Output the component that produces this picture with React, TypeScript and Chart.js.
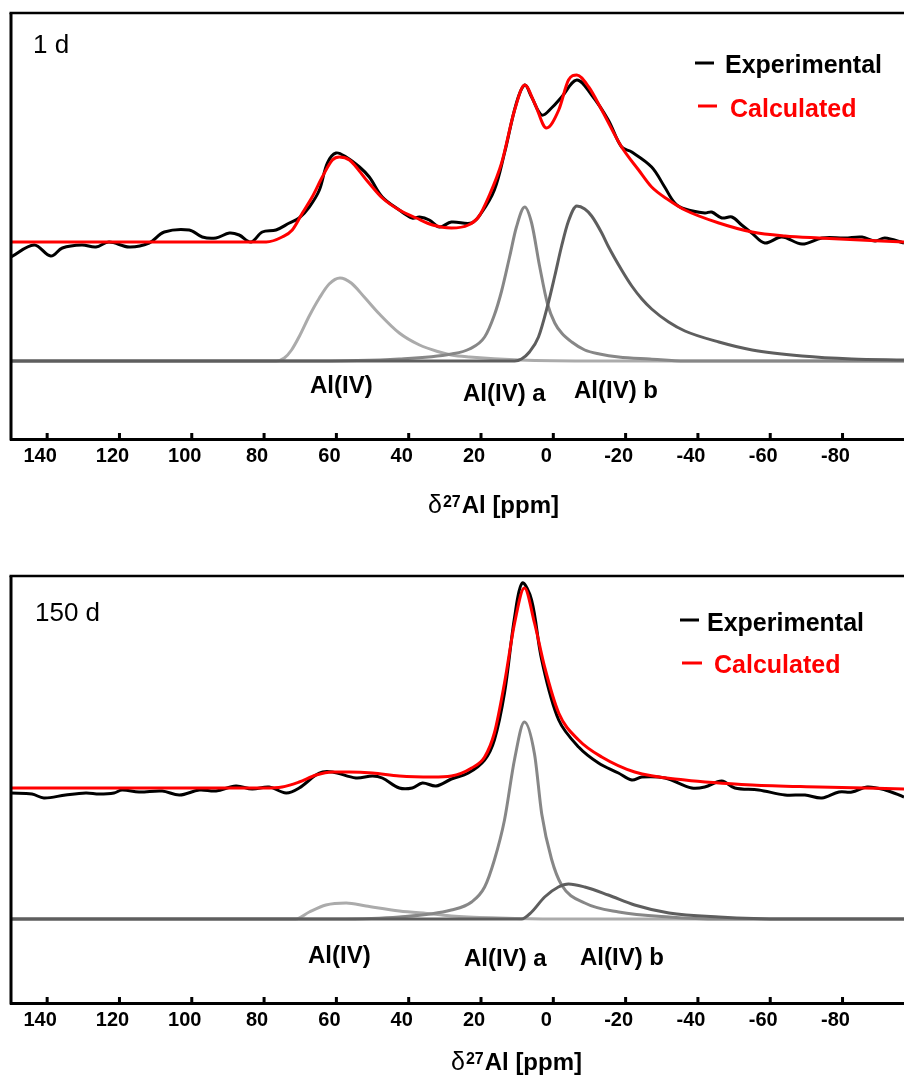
import React, { useEffect, useRef } from "react";
import { Chart, registerables } from "chart.js";

Chart.register(...registerables);

const FONT = '"Liberation Sans", Arial, sans-serif';

// Chemical shift axis (ppm), drawn high-to-low as usual for NMR spectra
const TICK_PPM = [140, 120, 100, 80, 60, 40, 20, 0, -20, -40, -60, -80];
const PPM_LEFT = 150;
const PPM_RIGHT = -97;

type Pair = [number, number];

// ---- 1 d sample: [ppm, intensity (a.u.)] ----
const EXP_1D: Pair[] = [
  [150, 104], [143.6, 116], [139, 105], [135.8, 113], [130.4, 116], [126.5, 114], [122.9, 119],
  [117.3, 114], [111.8, 118], [107.6, 129], [100.7, 131], [97.1, 124], [93.3, 123], [89.6, 128],
  [86.9, 126], [83.6, 119], [80.5, 129], [76.7, 131], [73, 138], [70.3, 143], [67.5, 154],
  [64.7, 171], [62.5, 198], [60.1, 208], [57.3, 204], [53.6, 194], [50.9, 184], [47.3, 164],
  [42.6, 151], [39, 143], [37, 144], [34.3, 141], [31.5, 134], [28.2, 139], [22.6, 138],
  [19.9, 148], [16.3, 171], [13.5, 208], [10.2, 258], [7.9, 276], [6, 264], [3.2, 246],
  [0.5, 253], [-2.3, 264], [-6.5, 281], [-10.6, 266], [-15.2, 241], [-18.9, 214], [-21.7, 209],
  [-27.2, 194], [-30.8, 174], [-33.6, 158], [-36.4, 152], [-41.9, 148], [-43.8, 149],
  [-46.6, 143], [-49.4, 144], [-52.1, 136], [-54.9, 128], [-58.5, 118], [-63.2, 124],
  [-68.8, 117], [-74.3, 123], [-80.7, 123], [-85.4, 124], [-89, 120], [-91.7, 123], [-97, 118],
];
const CALC_1D: Pair[] = [
  [150, 119], [79.4, 119], [75, 124], [72.2, 131], [69.4, 148], [66.7, 164], [63.9, 184],
  [61.1, 201], [59.2, 204], [56.4, 201], [51.7, 181], [47.3, 163], [42.6, 151], [37.9, 143],
  [33.4, 136], [28.2, 133], [23.5, 136], [20.7, 144], [17.9, 164], [14.3, 198], [10.7, 251],
  [7.9, 276], [5.2, 258], [1.9, 233], [-1.5, 251], [-4.2, 281], [-6.5, 286], [-9.8, 274],
  [-13.4, 251], [-18.9, 214], [-23.6, 191], [-27.2, 174], [-31.9, 161], [-36.4, 151],
  [-45.8, 138], [-55, 129], [-64.1, 125], [-73.5, 123], [-97, 119],
];
const AL4_1D: Pair[] = [
  [150, 0], [76.6, 0], [74.4, 3], [72.4, 11], [70.2, 25], [67.5, 45], [64.7, 63], [62, 77],
  [59, 83], [55.9, 78], [52.3, 64], [48.1, 47], [42.6, 28], [37, 16], [31.5, 9], [28.2, 6],
  [23.2, 4], [9.3, 1], [-12.8, 0], [-97, 0],
];
const AL4A_1D: Pair[] = [
  [150, 0], [70, 0], [42.6, 2], [28.2, 7], [23.2, 12], [19, 24], [16.3, 46], [14.3, 70],
  [12.1, 104], [10.2, 134], [7.9, 154], [6, 138], [3.8, 95], [1.6, 57], [-0.4, 38], [-2.3, 28],
  [-5.1, 19], [-8.7, 11], [-12.8, 7], [-18.1, 4], [-26.7, 2], [-36.4, 0], [-97, 0],
];
const AL4B_1D: Pair[] = [
  [150, 0], [10.7, 0], [8.8, 2], [6.6, 9], [4.1, 24], [1.6, 55], [-0.4, 85], [-2.3, 115],
  [-4.2, 140], [-6.5, 155], [-8.7, 152], [-10.6, 145], [-13.4, 128], [-15.3, 114], [-18.9, 91],
  [-21.7, 75], [-24.5, 62], [-27.2, 52], [-31.9, 39], [-36.4, 30], [-45.8, 19], [-55, 11],
  [-68.8, 5], [-82.6, 2], [-97, 1],
];

// ---- 150 d sample ----
const EXP_150D: Pair[] = [
  [150, 126], [144.2, 125], [140.9, 121], [134.9, 124], [129.3, 126], [125.6, 125], [121.5, 126],
  [119.3, 129], [114.6, 127], [108.2, 128], [103.4, 124], [97.9, 129], [93.3, 128], [87.8, 133],
  [83.3, 130], [78.6, 132], [73.9, 126], [70.3, 131], [64.7, 146], [61.1, 147], [54.6, 141],
  [50, 143], [47.3, 141], [42.6, 131], [39, 131], [36.2, 136], [32.4, 133], [28.2, 140],
  [23.5, 146], [19, 159], [16.3, 179], [13.5, 226], [10.7, 302], [8.6, 336], [6, 319],
  [3.2, 259], [-1.5, 199], [-7, 172], [-12.5, 156], [-18, 146], [-21.7, 139], [-24.5, 142],
  [-30.9, 141], [-38.3, 131], [-41.9, 132], [-46.6, 138], [-50.2, 131], [-56.8, 129],
  [-64.1, 124], [-69.6, 124], [-74.3, 121], [-79, 127], [-82.6, 127], [-86.8, 132],
  [-91.8, 129], [-97, 122],
];
const CALC_150D: Pair[] = [
  [150, 131], [80, 131], [75, 132], [70.3, 137], [65.6, 144], [61.1, 147], [56.4, 147],
  [50, 146], [42.6, 143], [33.4, 142], [28.2, 143], [22.6, 151], [19, 162], [16.3, 186],
  [13.5, 236], [10.7, 296], [8, 331], [5.2, 296], [2.4, 252], [-1.5, 206], [-7, 179],
  [-13.4, 162], [-22.5, 147], [-36.4, 139], [-55, 134], [-73.5, 132], [-97, 130],
];
const AL4_150D: Pair[] = [
  [150, 0], [71.2, 0], [67.5, 7], [62.9, 14], [57.3, 16], [51.8, 13], [42.6, 8], [33.4, 5],
  [28.2, 3], [14.9, 1], [0, 0], [-97, 0],
];
const AL4A_150D: Pair[] = [
  [150, 0], [60, 0], [42.6, 2], [28.2, 9], [22.6, 17], [19, 32], [16.3, 59], [13.5, 99],
  [10.7, 160], [8, 197], [5.2, 165], [3.2, 105], [0.5, 60], [-2.3, 34], [-8.7, 16],
  [-18.1, 7], [-32, 2], [-45.8, 0], [-97, 0],
];
const AL4B_150D: Pair[] = [
  [150, 0], [8.8, 0], [6, 7], [2.4, 22], [-1.4, 32], [-4.2, 35], [-8.7, 32], [-15.2, 24],
  [-22.5, 14], [-32, 6], [-45.8, 2], [-64.1, 0], [-97, 0],
];

const COLOR_EXP = "#000000";
const COLOR_CALC = "#ff0000";
const COLOR_AL4 = "#ababab";
const COLOR_AL4A = "#878787";
const COLOR_AL4B = "#5e5e5e";

type Label = { text: string; x: number; y: number };

interface PanelSpec {
  tag: string;
  exp: Pair[];
  calc: Pair[];
  al4: Pair[];
  al4a: Pair[];
  al4b: Pair[];
  yMin: number;
  yMax: number;
  height: number;
  padTop: number;
  axisHeight: number;
  tagPos: { x: number; y: number };
  legendExp: { x0: number; x1: number; ly: number; tx: number; ty: number };
  legendCalc: { x0: number; x1: number; ly: number; tx: number; ty: number };
  compLabels: Label[];
  titlePos: { x: number; y: number };
}

const PANEL_1D: PanelSpec = {
  tag: "1 d",
  exp: EXP_1D, calc: CALC_1D, al4: AL4_1D, al4a: AL4A_1D, al4b: AL4B_1D,
  yMin: -78, yMax: 348,
  height: 560, padTop: 13, axisHeight: 121,
  tagPos: { x: 33, y: 53 },
  legendExp: { x0: 695, x1: 714, ly: 63, tx: 725, ty: 73 },
  legendCalc: { x0: 698, x1: 717, ly: 106, tx: 730, ty: 117 },
  compLabels: [
    { text: "Al(IV)", x: 310, y: 393 },
    { text: "Al(IV) a", x: 463, y: 401 },
    { text: "Al(IV) b", x: 574, y: 398 },
  ],
  titlePos: { x: 428, y: 513 },
};

const PANEL_150D: PanelSpec = {
  tag: "150 d",
  exp: EXP_150D, calc: CALC_150D, al4: AL4_150D, al4a: AL4A_150D, al4b: AL4B_150D,
  yMin: -84, yMax: 343,
  height: 520, padTop: 16, axisHeight: 77,
  tagPos: { x: 35, y: 61 },
  legendExp: { x0: 680, x1: 699, ly: 60, tx: 707, ty: 71 },
  legendCalc: { x0: 682, x1: 702, ly: 103, tx: 714, ty: 113 },
  compLabels: [
    { text: "Al(IV)", x: 308, y: 403 },
    { text: "Al(IV) a", x: 464, y: 406 },
    { text: "Al(IV) b", x: 580, y: 405 },
  ],
  titlePos: { x: 451, y: 510 },
};

const toPoints = (a: Pair[]) => a.map(([x, y]) => ({ x, y }));

// lower `order` is painted on top
function curve(
  label: string,
  data: Pair[],
  color: string,
  order: number,
  smooth: "monotone" | "tension"
) {
  return {
    label,
    data: toPoints(data),
    borderColor: color,
    backgroundColor: color,
    borderWidth: 3,
    pointRadius: 0,
    fill: false,
    order,
    ...(smooth === "monotone" ? { cubicInterpolationMode: "monotone" } : { tension: 0.35 }),
  };
}

function annotatePlugin(spec: PanelSpec) {
  return {
    id: "spectrumFrame",
    afterDraw(chart: any) {
      const { ctx, chartArea: a, scales } = chart;
      const xs = scales.x;
      ctx.save();
      ctx.strokeStyle = "#000";
      ctx.lineCap = "butt";

      // frame: top and left edges
      ctx.lineWidth = 2.5;
      ctx.beginPath();
      ctx.moveTo(a.left - 1.5, a.top);
      ctx.lineTo(a.right, a.top);
      ctx.stroke();
      ctx.lineWidth = 3;
      ctx.beginPath();
      ctx.moveTo(a.left, a.top);
      ctx.lineTo(a.left, a.bottom + 1.5);
      ctx.stroke();

      // inward tick marks
      ctx.lineWidth = 3;
      ctx.beginPath();
      for (const t of xs.ticks) {
        const px = xs.getPixelForValue(t.value);
        ctx.moveTo(px, a.bottom);
        ctx.lineTo(px, a.bottom - 6);
      }
      ctx.stroke();

      // sample tag
      ctx.textBaseline = "alphabetic";
      ctx.textAlign = "left";
      ctx.fillStyle = "#000";
      ctx.font = `26px ${FONT}`;
      ctx.fillText(spec.tag, spec.tagPos.x, spec.tagPos.y);

      // legend
      const legendRows = [
        { row: spec.legendExp, color: COLOR_EXP, text: "Experimental" },
        { row: spec.legendCalc, color: COLOR_CALC, text: "Calculated" },
      ];
      ctx.font = `bold 25px ${FONT}`;
      for (const { row, color, text } of legendRows) {
        ctx.strokeStyle = color;
        ctx.lineWidth = 3;
        ctx.beginPath();
        ctx.moveTo(row.x0, row.ly);
        ctx.lineTo(row.x1, row.ly);
        ctx.stroke();
        ctx.fillStyle = color;
        ctx.fillText(text, row.tx, row.ty);
      }

      // component labels
      ctx.fillStyle = "#000";
      ctx.font = `bold 24px ${FONT}`;
      for (const l of spec.compLabels) ctx.fillText(l.text, l.x, l.y);

      // axis title: δ27Al [ppm] with superscript mass number
      let tx = spec.titlePos.x;
      const ty = spec.titlePos.y;
      ctx.font = `25px ${FONT}`;
      ctx.fillText("δ", tx, ty);
      tx += ctx.measureText("δ").width + 1;
      ctx.font = `bold 16px ${FONT}`;
      ctx.fillText("27", tx, ty - 6);
      tx += ctx.measureText("27").width + 1;
      ctx.font = `bold 24px ${FONT}`;
      ctx.fillText("Al [ppm]", tx, ty);

      ctx.restore();
    },
  };
}

function makeConfig(spec: PanelSpec): any {
  return {
    type: "line",
    data: {
      datasets: [
        curve("Calculated", spec.calc, COLOR_CALC, 0, "monotone"),
        curve("Experimental", spec.exp, COLOR_EXP, 1, "tension"),
        curve("Al(IV) b", spec.al4b, COLOR_AL4B, 2, "monotone"),
        curve("Al(IV) a", spec.al4a, COLOR_AL4A, 3, "monotone"),
        curve("Al(IV)", spec.al4, COLOR_AL4, 4, "monotone"),
      ],
    },
    options: {
      animation: false,
      responsive: false,
      maintainAspectRatio: false,
      events: [],
      layout: { padding: { left: 11, right: 0, top: spec.padTop, bottom: 0 } },
      plugins: {
        legend: { display: false },
        tooltip: { enabled: false },
        title: { display: false },
      },
      scales: {
        x: {
          type: "linear",
          reverse: true,
          min: PPM_RIGHT,
          max: PPM_LEFT,
          afterBuildTicks: (s: any) => {
            s.ticks = TICK_PPM.map((v) => ({ value: v }));
          },
          afterFit: (s: any) => {
            s.height = spec.axisHeight;
          },
          grid: { display: false, drawTicks: false, drawOnChartArea: false },
          border: { display: true, color: "#000", width: 3 },
          ticks: {
            color: "#000",
            font: { family: FONT, size: 20, weight: "bold" },
            padding: 5,
            labelOffset: -7,
            maxRotation: 0,
            autoSkip: false,
            callback: (v: number) => String(v),
          },
        },
        y: { display: false, min: spec.yMin, max: spec.yMax },
      },
    },
    plugins: [annotatePlugin(spec)],
  };
}

function Panel({ spec, top }: { spec: PanelSpec; top: number }) {
  const ref = useRef<HTMLCanvasElement | null>(null);
  useEffect(() => {
    if (!ref.current) return;
    const chart = new Chart(ref.current, makeConfig(spec));
    return () => chart.destroy();
  }, [spec]);
  return (
    <canvas
      ref={ref}
      width={904}
      height={spec.height}
      style={{ position: "absolute", left: 0, top, width: 904, height: spec.height, display: "block" }}
    />
  );
}

export default function App() {
  return (
    <div
      style={{
        position: "absolute",
        left: 0,
        top: 0,
        width: 904,
        height: 1080,
        background: "#ffffff",
        overflow: "hidden",
      }}
    >
      <Panel spec={PANEL_1D} top={0} />
      <Panel spec={PANEL_150D} top={560} />
    </div>
  );
}
